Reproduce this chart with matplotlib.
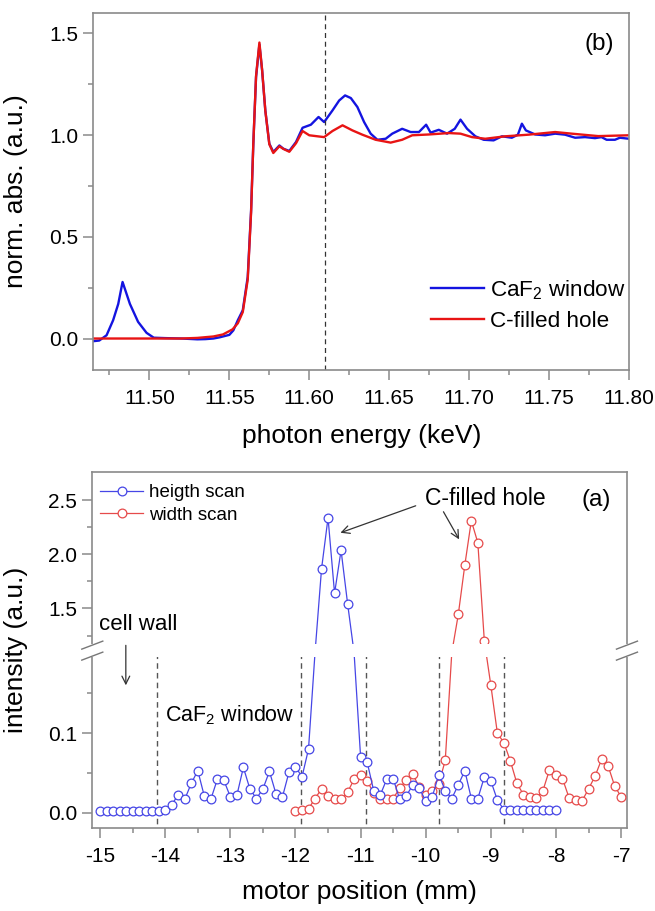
import numpy as np
import matplotlib
matplotlib.use("Agg")
import matplotlib.pyplot as plt
from matplotlib.ticker import MultipleLocator, FixedLocator, FormatStrFormatter
from matplotlib.patches import Rectangle
from matplotlib.lines import Line2D

plt.rcParams['font.family'] = ['Liberation Sans', 'DejaVu Sans']
plt.rcParams['mathtext.fontset'] = 'custom'
plt.rcParams['mathtext.rm'] = 'Liberation Sans'
plt.rcParams['mathtext.it'] = 'Liberation Sans:italic'
plt.rcParams['axes.unicode_minus'] = False

# ---------------- (b) XANES spectra ----------------
energy_caf2 = [11.465, 11.4686, 11.4732, 11.4773, 11.4805, 11.4832, 11.4878, 11.4929,
               11.4982, 11.5027, 11.510, 11.520, 11.525, 11.530, 11.535, 11.540, 11.544,
               11.547, 11.550, 11.5525, 11.5553, 11.5584, 11.5615, 11.5636, 11.565,
               11.5667, 11.5688, 11.5705, 11.5725, 11.575, 11.5775, 11.5813, 11.5838,
               11.5875, 11.5917, 11.5958, 11.601, 11.6058, 11.6093, 11.6145, 11.6187,
               11.6224, 11.626, 11.6301, 11.6343, 11.6384, 11.6426, 11.6478, 11.6519,
               11.6581, 11.6634, 11.6686, 11.6731, 11.6759, 11.681, 11.6862, 11.691,
               11.6946, 11.6987, 11.7039, 11.7091, 11.7153, 11.7205, 11.7267, 11.7305,
               11.733, 11.7355, 11.7413, 11.7475, 11.7538, 11.76, 11.7663, 11.7725,
               11.7787, 11.7828, 11.786, 11.7912, 11.7943, 11.80]
absorb_caf2 = [-0.013, -0.010, 0.016, 0.09, 0.17, 0.278, 0.17, 0.082,
               0.028, 0.004, 0.002, 0.0, -0.002, -0.004, -0.003, 0.0, 0.006,
               0.012, 0.018, 0.04, 0.09, 0.139, 0.303, 0.63, 0.958,
               1.285, 1.445, 1.318, 1.121, 0.958, 0.917, 0.949, 0.933,
               0.922, 0.966, 1.036, 1.051, 1.089, 1.064, 1.121, 1.170,
               1.195, 1.182, 1.138, 1.064, 1.007, 0.977, 0.982, 1.007,
               1.031, 1.015, 1.015, 1.051, 1.012, 1.026, 1.007, 1.031,
               1.076, 1.031, 0.994, 0.977, 0.974, 0.994, 0.987, 1.002,
               1.056, 1.023, 1.003, 0.999, 1.007, 1.002, 0.987, 0.990,
               0.985, 0.990, 0.977, 0.977, 0.987, 0.982]

energy_hole = [11.465, 11.50, 11.52, 11.53, 11.54, 11.546, 11.552, 11.5553, 11.5584,
               11.5615, 11.5636, 11.565, 11.5667, 11.5688, 11.5705, 11.5725, 11.575,
               11.5775, 11.5813, 11.5838, 11.5875, 11.5917, 11.5958, 11.600, 11.6093,
               11.6145, 11.6208, 11.627, 11.6332, 11.6415, 11.6509, 11.6581, 11.6644,
               11.6748, 11.6873, 11.6946, 11.7018, 11.7101, 11.7226, 11.7371, 11.7538,
               11.7642, 11.7808, 11.80]
absorb_hole = [0.0, 0.0, 0.0, 0.003, 0.010, 0.02, 0.045, 0.075, 0.13,
               0.29, 0.62, 0.96, 1.29, 1.455, 1.32, 1.12, 0.955,
               0.912, 0.945, 0.932, 0.918, 0.96, 1.02, 0.999, 0.990,
               1.02, 1.048, 1.023, 1.002, 0.977, 0.963, 0.977, 0.999,
               1.003, 1.010, 1.007, 0.990, 0.982, 0.994, 1.002, 1.015,
               1.007, 0.995, 0.999]
edge_marker_energy = 11.61

# ---------------- (a) fluorescence line scans ----------------
pos_height = np.round(np.arange(-15.0, -7.95, 0.1), 1)
int_height = [0.002, 0.002, 0.002, 0.002, 0.002, 0.002, 0.002, 0.002, 0.002, 0.002,
              0.003, 0.010, 0.023, 0.017, 0.037, 0.053, 0.021, 0.017, 0.042, 0.041,
              0.020, 0.022, 0.057, 0.030, 0.018, 0.030, 0.052, 0.024, 0.020, 0.051,
              0.058, 0.045, 0.080, 0.60, 1.865, 2.337, 1.64, 2.037, 1.546, 0.50,
              0.070, 0.064, 0.028, 0.022, 0.042, 0.043, 0.017, 0.021, 0.035, 0.031,
              0.015, 0.020, 0.048, 0.028, 0.018, 0.035, 0.053, 0.018, 0.018, 0.045,
              0.040, 0.016, 0.004, 0.003, 0.003, 0.003, 0.003, 0.003, 0.003, 0.003,
              0.003]
pos_width = np.round(np.arange(-12.0, -6.95, 0.1), 1)
int_width = [0.002, 0.003, 0.005, 0.018, 0.030, 0.021, 0.018, 0.017, 0.026, 0.042,
             0.047, 0.040, 0.025, 0.018, 0.018, 0.018, 0.031, 0.041, 0.049, 0.032,
             0.023, 0.027, 0.036, 0.066, 0.60, 1.445, 1.90, 2.31, 2.107, 1.20,
             0.160, 0.100, 0.088, 0.065, 0.037, 0.023, 0.020, 0.019, 0.028, 0.054,
             0.048, 0.043, 0.019, 0.016, 0.015, 0.030, 0.046, 0.067, 0.059, 0.034,
             0.020]
boundary_pos = [-14.13, -11.91, -10.91, -9.80, -8.80]

# broken intensity axis: [.., 0.2] and [1.1, ..] joined at the break
BRK_LO, BRK_HI = 0.2, 1.1
GAP = 0.002
UPPER_SCALE = 0.1359


def fwd(y):
    y = np.asarray(y, dtype=float)
    lo = np.minimum(y, BRK_LO)
    mid = np.clip(y, BRK_LO, BRK_HI) - BRK_LO
    hi = np.maximum(y, BRK_HI) - BRK_HI
    return lo + mid * (GAP / (BRK_HI - BRK_LO)) + hi * UPPER_SCALE


def inv(z):
    z = np.asarray(z, dtype=float)
    z1 = BRK_LO
    z2 = BRK_LO + GAP
    return np.where(z <= z1, z,
                    np.where(z <= z2, BRK_LO + (z - z1) * (BRK_HI - BRK_LO) / GAP,
                             BRK_HI + (z - z2) / UPPER_SCALE))


def outside_break(values):
    """Indices of points that are not hidden inside the axis break."""
    v = np.asarray(values)
    return list(np.where((v <= BRK_LO) | (v >= BRK_HI))[0])


SPINE = '#8a8a8a'
BLUE_B, RED_B = '#1414e0', '#e81414'
BLUE_A, RED_A = '#4646e6', '#e64a4a'

fig = plt.figure(figsize=(6.55, 9.11), dpi=100)
ax1 = fig.add_axes([0.1427, 0.5938, 0.8176, 0.3919])
ax2 = fig.add_axes([0.1409, 0.0911, 0.8163, 0.3908])

for ax in (ax1, ax2):
    for s in ax.spines.values():
        s.set_color(SPINE)
        s.set_linewidth(1.2)
    ax.tick_params(which='both', direction='out', color=SPINE, width=1.1,
                   labelsize=15, labelcolor='black')
    ax.tick_params(which='major', length=7)
    ax.tick_params(which='minor', length=3.8)
    ax.tick_params(axis='x', pad=7)
    ax.tick_params(axis='y', pad=4)

# ---- panel (b)
ax1.plot(energy_caf2, absorb_caf2, color=BLUE_B, lw=1.7, label='CaF$_2$ window')
ax1.plot(energy_hole, absorb_hole, color=RED_B, lw=1.7, label='C-filled hole')
ax1.axvline(edge_marker_energy, color='#333333', lw=0.9, ls=(0, (4, 3)))
ax1.set_xlim(11.465, 11.80)
ax1.set_ylim(-0.155, 1.6)
ax1.xaxis.set_major_locator(MultipleLocator(0.05))
ax1.xaxis.set_minor_locator(MultipleLocator(0.025))
ax1.xaxis.set_major_formatter(FormatStrFormatter('%.2f'))
ax1.yaxis.set_major_locator(MultipleLocator(0.5))
ax1.yaxis.set_minor_locator(MultipleLocator(0.25))
ax1.yaxis.set_major_formatter(FormatStrFormatter('%.1f'))
ax1.set_xlabel('photon energy (keV)', fontsize=19)
ax1.set_ylabel('norm. abs. (a.u.)', fontsize=19)
ax1.xaxis.set_label_coords(0.5, -0.15)
ax1.yaxis.set_label_coords(-0.122, 0.5)
ax1.text(11.7814, 1.45, '(b)', fontsize=17.5, ha='center', va='center')
ax1.legend(loc='upper left', bbox_to_anchor=(0.630, 0.258), frameon=False,
           fontsize=16.2, handlelength=2.35, handletextpad=0.3,
           labelspacing=0.4, borderpad=0, borderaxespad=0)

# ---- panel (a)
ax2.set_yscale('function', functions=(fwd, inv))
ax2.plot(pos_width, int_width, color=RED_A, lw=0.9, marker='o', ms=6.3,
         mfc='white', mec=RED_A, mew=0.9, markevery=outside_break(int_width),
         label='width scan', zorder=3)
ax2.plot(pos_height, int_height, color=BLUE_A, lw=0.9, marker='o', ms=6.3,
         mfc='white', mec=BLUE_A, mew=0.9, markevery=outside_break(int_height),
         label='heigth scan', zorder=3)
ax2.vlines(boundary_pos, -0.05, BRK_LO, colors='#555555', lw=1.0,
           linestyles=(0, (4, 3)), zorder=2)
ax2.set_xlim(-15.12, -6.91)
ax2.set_ylim(-0.019, 2.76)
ax2.xaxis.set_major_locator(MultipleLocator(1))
ax2.xaxis.set_minor_locator(MultipleLocator(0.5))
ax2.xaxis.set_major_formatter(FormatStrFormatter('%d'))
ax2.yaxis.set_major_locator(FixedLocator([0.0, 0.1, 1.5, 2.0, 2.5]))
ax2.yaxis.set_minor_locator(FixedLocator([0.05, 0.15, 1.25, 1.75, 2.25]))
ax2.yaxis.set_major_formatter(FormatStrFormatter('%.1f'))
ax2.set_xlabel('motor position (mm)', fontsize=19)
ax2.set_ylabel('intensity (a.u.)', fontsize=19)
ax2.xaxis.set_label_coords(0.5, -0.146)
ax2.yaxis.set_label_coords(-0.120, 0.5)

handles, labels = ax2.get_legend_handles_labels()
leg = ax2.legend(handles[::-1], labels[::-1], loc='upper left',
                 bbox_to_anchor=(0.0144, 0.966), frameon=False, fontsize=13.5,
                 handlelength=2.3, handletextpad=0.3, labelspacing=0.3,
                 borderpad=0, borderaxespad=0, numpoints=1)
for h in leg.legend_handles:
    h.set_markevery([1])

# break band and "//" marks on both vertical spines
ax_h_px = ax2.get_position().height * fig.get_figheight() * fig.dpi
ax_w_px = ax2.get_position().width * fig.get_figwidth() * fig.dpi
z0 = fwd(-0.019)
z1 = fwd(2.76)
yb = float((fwd(BRK_LO) + GAP / 2 - z0) / (z1 - z0)) + 2.0 / ax_h_px
half = 6.5 / ax_h_px
ax2.add_patch(Rectangle((-0.03, yb - half), 1.06, 2 * half, transform=ax2.transAxes,
                        facecolor='white', edgecolor='none', clip_on=False, zorder=6))
dx = 10.5 / ax_w_px
dy = 4.0 / ax_h_px
for xs in (0.0, 1.0):
    for off in (-half + 1.0 / ax_h_px, half - 1.0 / ax_h_px):
        ax2.add_line(Line2D([xs - dx, xs + dx], [yb + off - dy, yb + off + dy],
                            transform=ax2.transAxes, color='#777777', lw=1.0,
                            clip_on=False, zorder=7))

# annotations
arrow = dict(arrowstyle='->', color='#333333', lw=0.9, shrinkA=0, shrinkB=0,
             mutation_scale=14)
ax2.text(-9.088, 2.515, 'C-filled hole', fontsize=16.5, ha='center', va='center')
ax2.annotate('', xy=(-11.31, 2.199), xytext=(-10.154, 2.448), arrowprops=arrow, zorder=8)
ax2.annotate('', xy=(-9.487, 2.138), xytext=(-9.728, 2.393), arrowprops=arrow, zorder=8)
ax2.text(-7.385, 2.506, '(a)', fontsize=17.5, ha='center', va='center')
ax2.text(-15.015, 1.353, 'cell wall', fontsize=16, ha='left', va='center')
ax2.annotate('', xy=(-14.605, 0.16), xytext=(-14.605, 1.16), arrowprops=arrow, zorder=8)
ax2.text(-14.0, 0.1225, 'CaF$_2$ window', fontsize=15.5, ha='left', va='center')

fig.savefig('out.png', dpi=100)
